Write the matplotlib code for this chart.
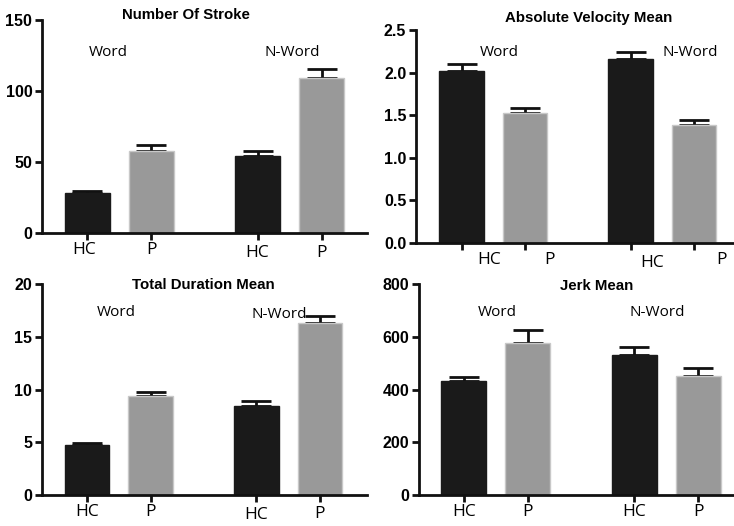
import matplotlib
matplotlib.use("Agg")
import matplotlib.pyplot as plt
import matplotlib.transforms as mtransforms
import numpy as np

W, H = 734, 526
fig = plt.figure(figsize=(W / 100, H / 100), dpi=100)

tick_labels = ["HC", "P", "HC", "P"]
group_labels = ["Word", "N-Word"]
positions = [0, 1, 2.66, 3.66]
colors = ["#1a1a1a", "#999999", "#1a1a1a", "#999999"]

titles = ["Number Of Stroke", "Absolute Velocity Mean", "Total Duration Mean", "Jerk Mean"]
means = [
    [28, 58, 54, 109],
    [2.02, 1.52, 2.16, 1.38],
    [4.77, 9.35, 8.4, 16.3],
    [431, 576, 530, 452],
]
errors = [
    [1.5, 4, 4, 6.5],
    [0.08, 0.07, 0.08, 0.06],
    [0.2, 0.45, 0.55, 0.7],
    [16, 48, 33, 29],
]
yticks = [
    [0, 50, 100, 150],
    [0.0, 0.5, 1.0, 1.5, 2.0, 2.5],
    [0, 5, 10, 15, 20],
    [0, 200, 400, 600, 800],
]
ytick_fmt = ["{:.0f}", "{:.1f}", "{:.0f}", "{:.0f}"]

# layout in pixels: left, top, right, bottom of axes; xlim
boxes = [
    (42, 20, 367, 233, (-0.71, 4.37)),
    (416, 30, 734, 243, (-0.72, 4.29)),
    (42, 284, 367, 495, (-0.71, 4.40)),
    (419, 284, 734, 495, (-0.70, 4.22)),
]
title_pos = [(186, 15), (589, 18), (203, 285), (597, 286)]
group_pos = [
    [(108, 52), (292, 52)],
    [(499, 52), (690, 52)],
    [(116, 312), (279, 314)],
    [(497, 313), (657, 313)],
]
# pixel offsets (dx, dy) of x tick labels from their ticks
label_shift = [
    [(-3, 0), (0, 0), (0, -3), (0, -3)],
    [(27, 0), (24, 0), (22, -3), (27, 0)],
    [(0, 0), (0, 0), (0, -3), (0, -2)],
    [(0, 0), (0, 0), (0, 0), (0, 0)],
]

for i in range(4):
    l, t, r, b, xl = boxes[i]
    ax = fig.add_axes([l / W, (H - b) / H, (r - l) / W, (b - t) / H])
    ax.bar(positions, means[i], width=0.7, color=colors,
           edgecolor=["#1a1a1a", "#c8c8c8", "#1a1a1a", "#c8c8c8"], linewidth=1, zorder=2)
    ax.errorbar(positions, means[i], yerr=[np.zeros(4), errors[i]], fmt="none", ecolor="#111111",
                elinewidth=2, capsize=11, capthick=2, zorder=1)
    ax.set_xlim(*xl)
    ax.set_ylim(yticks[i][0], yticks[i][-1])
    ax.set_yticks(yticks[i])
    ax.set_yticklabels([ytick_fmt[i].format(v) for v in yticks[i]], fontfamily="Liberation Sans",
                       fontweight="bold", fontsize=11.5)
    ax.set_xticks(positions)
    ax.set_xticklabels([])
    base = ax.get_xaxis_transform()
    for p, lab, (dx, dy) in zip(positions, tick_labels, label_shift[i]):
        off = mtransforms.ScaledTranslation(dx / 100, (dy - 9) / 100, fig.dpi_scale_trans)
        ax.text(p, 0, lab, transform=base + off, ha="center", va="top",
                fontfamily="Open Sans", fontsize=12.5, clip_on=False)
    for s in ["top", "right"]:
        ax.spines[s].set_visible(False)
    for s in ["left", "bottom"]:
        ax.spines[s].set_linewidth(2)
        ax.spines[s].set_color("#111111")
    ax.tick_params(axis="both", width=2, length=5, color="#111111", pad=2)
    ax.patch.set_alpha(0)
    tx, ty = title_pos[i]
    fig.text(tx / W, 1 - ty / H, titles[i], ha="center", va="center", fontfamily="Liberation Sans",
             fontweight="bold", fontsize=10.8)
    for (gx, gy), g in zip(group_pos[i], group_labels):
        fig.text(gx / W, 1 - gy / H, g, ha="center", va="center", fontfamily="Open Sans", fontsize=11)

fig.savefig("out.png", dpi=100)
